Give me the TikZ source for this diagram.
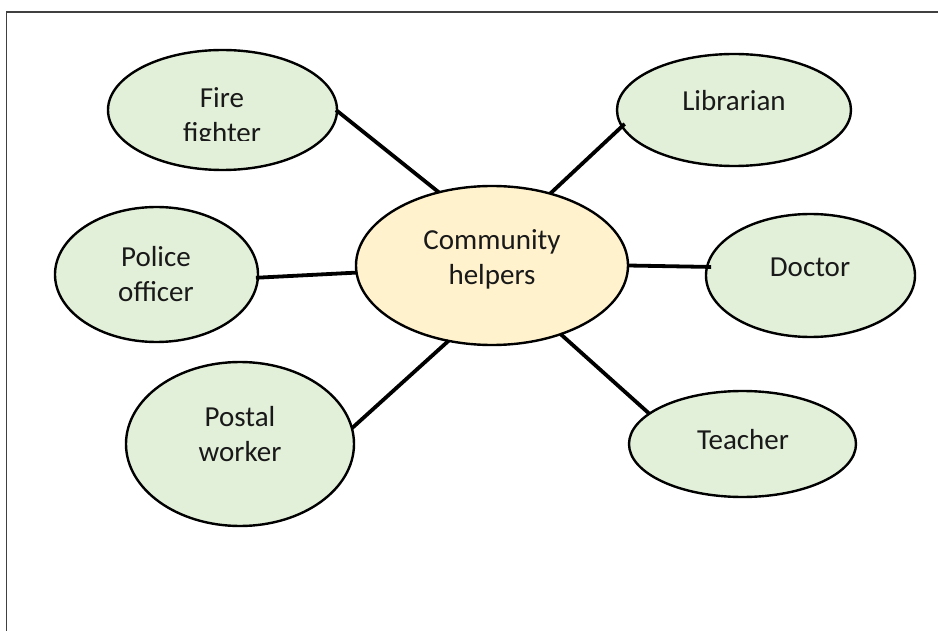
\documentclass[tikz,border=0pt]{standalone}
\usepackage{fontspec}
\setmainfont{Carlito}
\usetikzlibrary{shapes.geometric}
\definecolor{leaf}{HTML}{E2EFD9}
\definecolor{hub}{HTML}{FFF2CC}
\tikzset{
  bubble/.style={ellipse,draw=black,line width=2.4pt,inner sep=0pt,outer sep=0pt},
  leafb/.style={bubble,fill=leaf},
  hubb/.style={bubble,fill=hub},
  link/.style={line width=3.8pt,black},
  frameln/.style={line width=1.8pt,black!75},
  label/.style={font=\fontsize{29}{35}\selectfont,text=black!90,align=center,inner sep=0pt}
}
\begin{document}
\begin{tikzpicture}[x=1pt,y=-1pt]
\useasboundingbox (0,0) rectangle (938,631);
\coordinate (ftl) at (6.5,631);
\coordinate (fc) at (6.5,12);
\coordinate (ftr) at (938,12);
\draw[frameln] (ftl) -- (fc) -- (ftr);
\node[hubb,minimum width=272pt,minimum height=159pt] (center) at (492,265.5) {};
\node[leafb,minimum width=229pt,minimum height=120pt] (fire) at (222.5,110) {};
\node[leafb,minimum width=234pt,minimum height=112pt] (lib) at (734,110) {};
\node[leafb,minimum width=203pt,minimum height=135pt] (police) at (156.5,274.5) {};
\node[leafb,minimum width=209pt,minimum height=123pt] (doctor) at (810.5,275.5) {};
\node[leafb,minimum width=228pt,minimum height=164pt] (postal) at (240,444) {};
\node[leafb,minimum width=227pt,minimum height=106pt] (teacher) at (742.5,444) {};
\draw[link] ([xshift=-1pt]fire.east) -- (center.126.1);
\draw[link] ([xshift=4pt]lib.187.6) -- (center.51.2);
\draw[link] ([xshift=-2pt,yshift=-1.5pt]police.-1.7) -- (center.183.4);
\draw[link] ([xshift=4pt,yshift=-0.5pt]doctor.175.4) -- (center.east);
\draw[link] (postal.8) -- (center.240.2);
\draw[link] (teacher.162.3) -- (center.-45);
\node[label] (tcenter) at (492,259) {Community\\helpers};
\node[label] (tlib) at (734,101) {Librarian};
\node[label] (tpolice) at (156,274) {Police\\officer};
\node[label] (tdoctor) at (810,267) {Doctor};
\node[label] (tpostal) at (240,434) {Postal\\worker};
\node[label] (tteacher) at (743,440) {Teacher};
\begin{scope}
\clip (108,60) rectangle (337,141);
\node[label] (tfire) at (222,117.5) {Fire\\fighter};
\end{scope}
\end{tikzpicture}
\end{document}
